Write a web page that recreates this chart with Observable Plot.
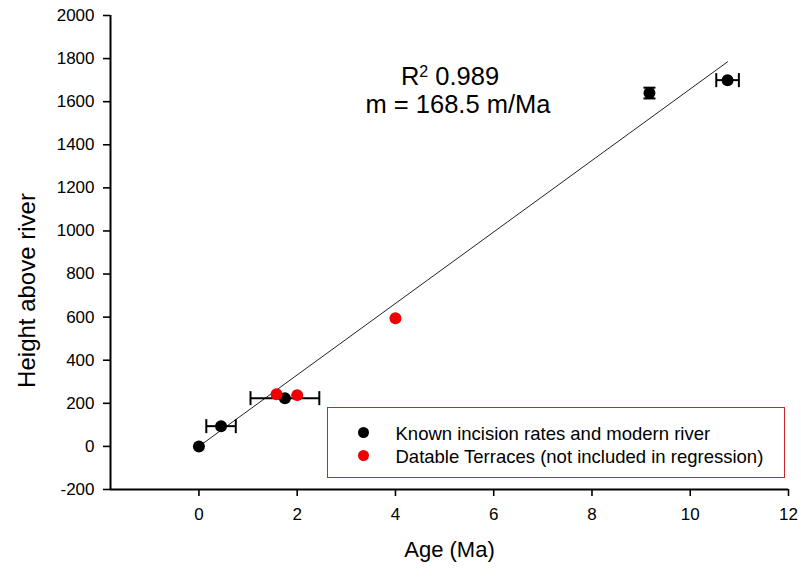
<!DOCTYPE html>
<html>
<head>
<meta charset="utf-8">
<script src="https://cdn.jsdelivr.net/npm/d3@7"></script>
<script src="https://cdn.jsdelivr.net/npm/@observablehq/plot@0.6"></script>
<style>
  html, body { margin: 0; padding: 0; background: #fff; }
  #wrap { position: relative; width: 801px; height: 582px; font-family: "Liberation Sans", Arial, sans-serif; }
  #wrap svg { position: absolute; left: 0; top: 0; }
  .ann { position: absolute; font-size: 25.5px; line-height: 26px; color: #000; text-align: center; white-space: nowrap; }
  .ann sup { font-size: 16px; position: relative; top: -4px; vertical-align: top; }
  #legend { position: absolute; left: 327px; top: 407px; width: 456px; height: 69px; border: 1.5px solid #c8262d; background: #fff; }
  .lg-dot { position: absolute; width: 11px; height: 11px; border-radius: 50%; }
  .lg-txt { position: absolute; font-size: 18.5px; line-height: 20px; white-space: nowrap; color: #000; }
</style>
</head>
<body>
<div id="wrap"></div>
<script>
// ---- data ----
const knownAge       = [0, 0.45, 1.75, 9.17, 10.76];
const knownHeight    = [0, 94, 224, 1640, 1700];
const knownAgeErr    = [0, 0.30, 0.70, 0, 0.23];
const knownHeightErr = [0, 0, 0, 25, 0];
const terraceAge     = [1.58, 2.0, 4.0];
const terraceHeight  = [242, 238, 595];
const fitAge         = [0, 10.76];
const fitHeight      = [0, 1785];
const xTicks = [0, 2, 4, 6, 8, 10, 12];
const yTicks = [-200, 0, 200, 400, 600, 800, 1000, 1200, 1400, 1600, 1800, 2000];
const xDomain = [-1.8, 12];
const yDomain = [-200, 2000];
const xTitle = "Age (Ma)";
const yTitle = "Height above river";
const legendLabels = ["Known incision rates and modern river", "Datable Terraces (not included in regression)"];
const r2Text = "0.989";
const slopeText = "m = 168.5 m/Ma";

// ---- tables ----
const known = knownAge.map((a, i) => ({age: a, h: knownHeight[i], ex: knownAgeErr[i], ey: knownHeightErr[i]}));
const terraces = terraceAge.map((a, i) => ({age: a, h: terraceHeight[i]}));
const fit = fitAge.map((a, i) => ({age: a, h: fitHeight[i]}));
const xErr = known.filter(d => d.ex > 0);
const yErr = known.filter(d => d.ey > 0);
const xCaps = xErr.flatMap(d => [{age: d.age - d.ex, h: d.h}, {age: d.age + d.ex, h: d.h}]);
const yCaps = yErr.flatMap(d => [{age: d.age, h: d.h - d.ey}, {age: d.age, h: d.h + d.ey}]);

// custom cap symbols
const vBar = {draw(ctx, size) { const r = Math.sqrt(size / Math.PI); ctx.moveTo(0, -r); ctx.lineTo(0, r); }};
const hBar = {draw(ctx, size) { const r = Math.sqrt(size / Math.PI); ctx.moveTo(-r, 0); ctx.lineTo(r, 0); }};

const chart = Plot.plot({
  width: 801,
  height: 582,
  marginLeft: 110,
  marginRight: 13,
  marginTop: 15,
  marginBottom: 93,
  style: {fontFamily: "Liberation Sans, Arial, sans-serif", fontSize: "17px", color: "#000", background: "#fff"},
  x: {domain: xDomain, ticks: xTicks, tickSize: 7, tickPadding: 11, label: null, tickFormat: d => String(d)},
  y: {domain: yDomain, ticks: yTicks, tickSize: 7, tickPadding: 9, label: null, tickFormat: d => String(d)},
  marks: [
    Plot.axisX({ticks: xTicks, tickSize: 7, tickPadding: 11, strokeWidth: 1.6, tickFormat: d => String(d), label: null}),
    Plot.axisY({ticks: yTicks, tickSize: 7, tickPadding: 9, strokeWidth: 1.6, tickFormat: d => String(d), label: null}),
    Plot.ruleX([xDomain[0]], {stroke: "#000", strokeWidth: 2}),
    Plot.ruleY([yDomain[0]], {stroke: "#000", strokeWidth: 2}),
    Plot.line(fit, {x: "age", y: "h", stroke: "#222", strokeWidth: 1}),
    Plot.link(xErr, {x1: d => d.age - d.ex, x2: d => d.age + d.ex, y1: "h", y2: "h", stroke: "#000", strokeWidth: 2}),
    Plot.dot(xCaps, {x: "age", y: "h", symbol: vBar, r: 7, stroke: "#000", strokeWidth: 2, fill: "none"}),
    Plot.link(yErr, {x1: "age", x2: "age", y1: d => d.h - d.ey, y2: d => d.h + d.ey, stroke: "#000", strokeWidth: 2}),
    Plot.dot(yCaps, {x: "age", y: "h", symbol: hBar, r: 6, stroke: "#000", strokeWidth: 2, fill: "none"}),
    Plot.dot(known, {x: "age", y: "h", r: 6, fill: "#000", stroke: "none"}),
    Plot.dot(terraces, {x: "age", y: "h", r: 6, fill: "#f00000", stroke: "none"}),
    Plot.text([xTitle], {text: d => d, frameAnchor: "bottom", textAnchor: "middle", dy: 67, fontSize: 22, fill: "#000"}),
    Plot.text([yTitle], {text: d => d, frameAnchor: "left", textAnchor: "middle", rotate: -90, dx: -83, dy: 38, fontSize: 24, fill: "#000"})
  ]
});

const wrap = document.getElementById("wrap");
wrap.appendChild(chart);

// annotation
const a1 = document.createElement("div");
a1.className = "ann";
a1.style.left = "350px"; a1.style.width = "200px"; a1.style.top = "63px";
a1.innerHTML = "R<sup>2</sup> " + r2Text;
wrap.appendChild(a1);
const a2 = document.createElement("div");
a2.className = "ann";
a2.style.left = "358px"; a2.style.width = "200px"; a2.style.top = "91px";
a2.textContent = slopeText;
wrap.appendChild(a2);

// legend
const lg = document.createElement("div");
lg.id = "legend";
const legendColors = ["#000", "#f00000"];
legendLabels.forEach((t, i) => {
  const dot = document.createElement("div");
  dot.className = "lg-dot";
  dot.style.background = legendColors[i];
  dot.style.left = (364 - 327 - 5.5 - 1.5) + "px";
  dot.style.top = (433 + i * 23 - 407 - 5.5 - 1.5) + "px";
  lg.appendChild(dot);
  const tx = document.createElement("div");
  tx.className = "lg-txt";
  tx.style.left = (396 - 327 - 1.5) + "px";
  tx.style.top = (424 + i * 23 - 407 - 1.5) + "px";
  tx.textContent = t;
  lg.appendChild(tx);
});
wrap.appendChild(lg);
</script>
</body>
</html>
